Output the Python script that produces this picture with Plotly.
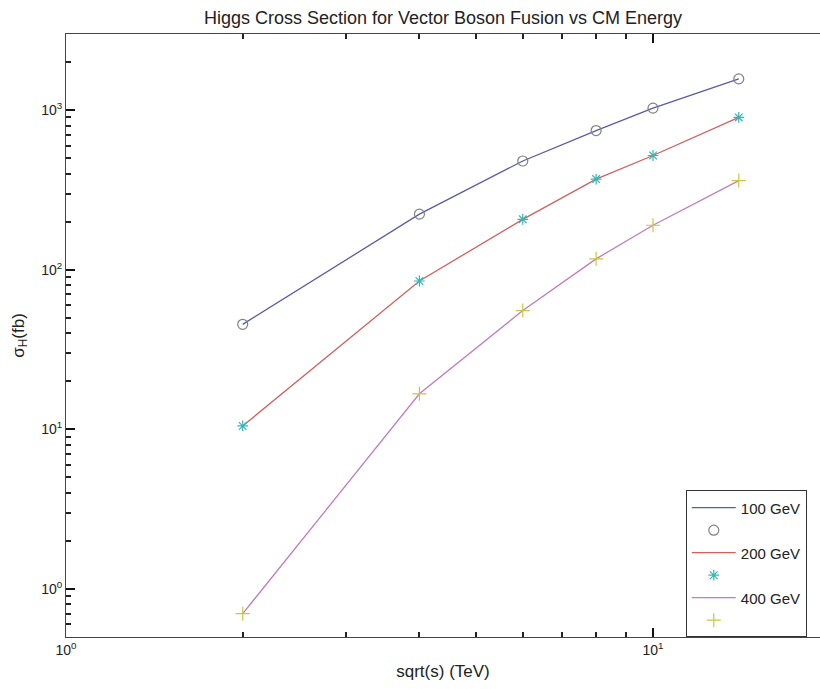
import numpy as np
import plotly.graph_objects as go

# Centre-of-mass energy sqrt(s) in TeV
energy_tev = [2, 4, 6, 8, 10, 14]

# Vector boson fusion Higgs cross sections (fb) for three Higgs masses
sigma_100 = [45.5, 223, 480, 745, 1030, 1570]
sigma_200 = [10.5, 85, 207, 370, 520, 900]
sigma_400 = [0.70, 16.7, 55.5, 117, 190, 362]

series_labels = ["100 GeV", "200 GeV", "400 GeV"]
# decade labels shown as powers of ten
decade_alias = {"0.1": "10<sup>-1</sup>", "1": "10<sup>0</sup>", "10": "10<sup>1</sup>",
                "100": "10<sup>2</sup>", "1000": "10<sup>3</sup>"}

line_colors = ["#5a5aa8", "#d06060", "#c07cc0"]
marker_colors = ["#808080", "#33b8b8", "#c8c840"]
marker_symbols = ["circle-open", "asterisk-open", "cross-thin-open"]
marker_sizes = [10, 9, 10]

fig = go.Figure()
for lbl, ys, lc, mc, sym, sz in zip(series_labels, [sigma_100, sigma_200, sigma_400],
                                     line_colors, marker_colors, marker_symbols, marker_sizes):
    fig.add_trace(go.Scatter(x=energy_tev, y=ys, mode="lines", name=lbl,
                             line=dict(color=lc, width=1.3)))
    fig.add_trace(go.Scatter(x=energy_tev, y=ys, mode="markers", name=" ",
                             marker=dict(symbol=sym, size=sz, color=mc,
                                         line=dict(color=mc, width=1.2))))

font_family = "Liberation Sans, Arial, sans-serif"

fig.update_layout(
    width=820, height=689,
    margin=dict(l=66, r=0, t=34, b=52),
    paper_bgcolor="white", plot_bgcolor="white",
    font=dict(family=font_family, size=14, color="#222"),
    title=dict(text="Higgs Cross Section for Vector Boson Fusion vs CM Energy",
               x=0.5, xref="paper", xanchor="center", y=0.975, yanchor="middle",
               font=dict(size=18, color="#222")),
    showlegend=True,
    legend=dict(x=0.822, y=0.243, xanchor="left", yanchor="top",
                bgcolor="white", bordercolor="#333", borderwidth=1,
                font=dict(size=15, color="#222"), tracegroupgap=0,
                itemwidth=44),
)

axis_common = dict(
    type="log", showgrid=False, zeroline=False,
    showline=True, linecolor="#444", linewidth=1,
    ticks="inside", ticklen=9, tickwidth=1.5, tickcolor="#111",
    tickmode="linear", tick0=0, dtick=1, exponentformat="none",
    labelalias=decade_alias, tickfont=dict(size=14),
    minor=dict(ticks="inside", ticklen=5, tickwidth=1.5, tickcolor="#222",
               dtick="D1", showgrid=False),
)

fig.update_xaxes(
    range=[0, (820 - 66) / 587], mirror="ticks",
    title=dict(text="sqrt(s) (TeV)", font=dict(size=17), standoff=8),
    **axis_common,
)

fig.update_yaxes(
    range=[np.log10(0.5), np.log10(3000)], mirror=False,
    title=dict(text="σ<sub>H</sub>(fb)", font=dict(size=17), standoff=12),
    **axis_common,
)

fig.write_html("out.html")
